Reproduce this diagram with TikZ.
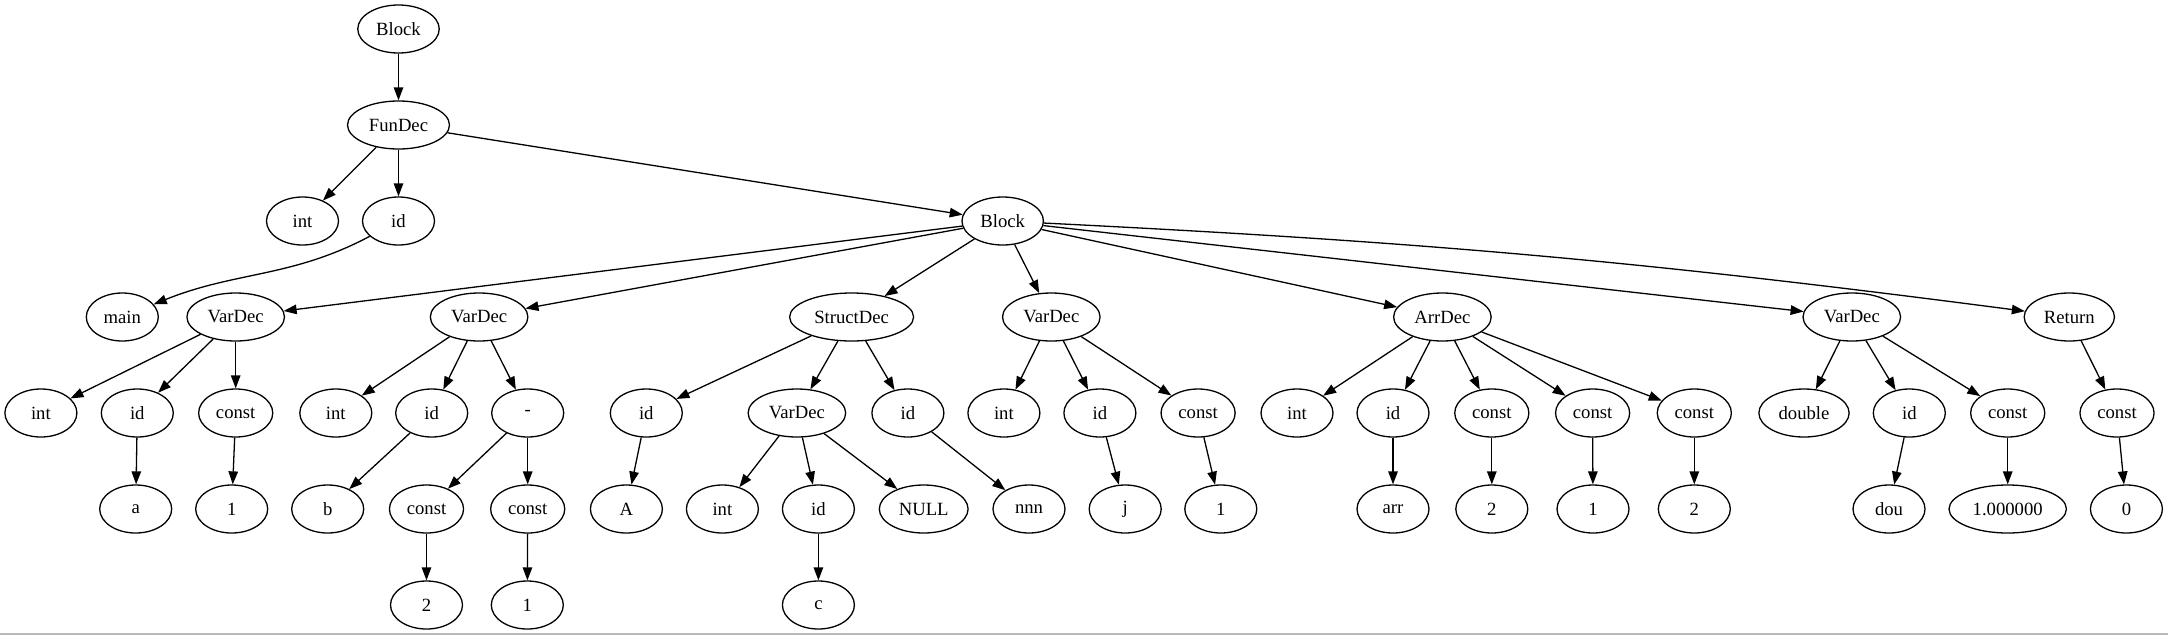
\documentclass[tikz,border=0pt]{standalone}
\usepackage{fontspec}
\setmainfont{Liberation Serif}
\usetikzlibrary{shapes.geometric,arrows.meta}

\begin{document}
\begin{tikzpicture}[x=1pt,y=-1pt,
    astnode/.style={draw,ellipse,line width=1.3pt,minimum width=72pt,minimum height=48pt,
      inner xsep=6.5pt,inner ysep=2pt,font=\fontsize{18.67}{22}\selectfont},
    >={Triangle[length=13pt,width=9.5pt]},
    every edge/.style={draw,->,line width=1.3pt}]
    \useasboundingbox (0,0) rectangle (2168,635);
    \draw[gray!55,line width=1.6pt] (0,634) -- (2168,634);
    % top part
    \node[astnode] (blk0) at (398.5,29) {Block};
    \node[astnode] (fun) at (398.5,125) {FunDec};
    \node[astnode] (fint) at (302.5,221) {int};
    \node[astnode] (fid) at (398.5,221) {id};
    \node[astnode] (blk) at (1002.7,221) {Block};
    % statements of the block
    \node[astnode] (main) at (122.3,317) {main};
    \node[astnode] (vd1) at (235.7,317) {VarDec};
    \node[astnode] (vd2) at (479.1,317) {VarDec};
    \node[astnode] (sd) at (851.6,317) {StructDec};
    \node[astnode] (vd3) at (1051.3,317) {VarDec};
    \node[astnode] (ad) at (1442.4,317) {ArrDec};
    \node[astnode] (vd4) at (1851.8,317) {VarDec};
    \node[astnode] (ret) at (2069.3,317) {Return};
    % their children
    \node[astnode] (vd1int) at (40.9,413) {int};
    \node[astnode] (vd1id) at (137.3,413) {id};
    \node[astnode] (vd1c) at (235.7,413) {const};
    \node[astnode] (vd2int) at (335.8,413) {int};
    \node[astnode] (vd2id) at (431.7,413) {id};
    \node[astnode] (minus) at (527.7,413) {-};
    \node[astnode] (sdid1) at (646.3,413) {id};
    \node[astnode] (sdvd) at (796.9,413) {VarDec};
    \node[astnode] (sdid2) at (907.9,413) {id};
    \node[astnode] (vd3int) at (1003.9,413) {int};
    \node[astnode] (vd3id) at (1099.9,413) {id};
    \node[astnode] (vd3c) at (1198.1,413) {const};
    \node[astnode] (adint) at (1297,413) {int};
    \node[astnode] (adid) at (1393,413) {id};
    \node[astnode] (adc1) at (1491.8,413) {const};
    \node[astnode] (adc2) at (1592.6,413) {const};
    \node[astnode] (adc3) at (1694.3,413) {const};
    \node[astnode] (vd4t) at (1804,413) {double};
    \node[astnode] (vd4id) at (1909.3,413) {id};
    \node[astnode] (vd4c) at (2007.7,413) {const};
    \node[astnode] (retc) at (2117,413) {const};
    % leaves
    \node[astnode] (a) at (135.7,509) {a};
    \node[astnode] (one1) at (231.7,509) {1};
    \node[astnode] (b) at (327.7,509) {b};
    \node[astnode] (mc1) at (426.5,509) {const};
    \node[astnode] (mc2) at (527.7,509) {const};
    \node[astnode] (A) at (626.4,509) {A};
    \node[astnode] (sint) at (722.4,509) {int};
    \node[astnode] (sid) at (818.4,509) {id};
    \node[astnode] (null) at (923.7,509) {NULL};
    \node[astnode] (nnn) at (1029,509) {nnn};
    \node[astnode] (j) at (1125.2,509) {j};
    \node[astnode] (one2) at (1220.8,509) {1};
    \node[astnode] (arr) at (1393,509) {arr};
    \node[astnode] (two1) at (1491.8,509) {2};
    \node[astnode] (one3) at (1593,509) {1};
    \node[astnode] (two2) at (1694.3,509) {2};
    \node[astnode] (dou) at (1889,509) {dou};
    \node[astnode] (fl) at (2007.7,509) {1.000000};
    \node[astnode] (zero) at (2126.4,509) {0};
    \node[astnode] (two3) at (426.5,605) {2};
    \node[astnode] (one4) at (527.3,605) {1};
    \node[astnode] (c) at (818.4,605) {c};
    % edges
    \foreach \p/\q in {blk0/fun,fun/fint,fun/fid,fun/blk,
        blk/vd1,blk/vd2,blk/sd,blk/vd3,blk/ad,blk/vd4,
        vd1/vd1int,vd1/vd1id,vd1/vd1c,vd1id/a,vd1c/one1,
        vd2/vd2int,vd2/vd2id,vd2/minus,vd2id/b,minus/mc1,minus/mc2,mc1/two3,mc2/one4,
        sd/sdid1,sd/sdvd,sd/sdid2,sdid1/A,sdvd/sint,sdvd/sid,sdvd/null,sid/c,sdid2/nnn,
        vd3/vd3int,vd3/vd3id,vd3/vd3c,vd3id/j,vd3c/one2,
        ad/adint,ad/adid,ad/adc1,ad/adc2,ad/adc3,adid/arr,adc1/two1,adc2/one3,adc3/two2,
        vd4/vd4t,vd4/vd4id,vd4/vd4c,vd4id/dou,vd4c/fl,
        ret/retc,retc/zero}
      \path (\p) edge (\q);
    \path (fid) edge[out=208,in=22] (main);
    \path (blk) edge[bend left=2.3] (ret);
\end{tikzpicture}
\end{document}
